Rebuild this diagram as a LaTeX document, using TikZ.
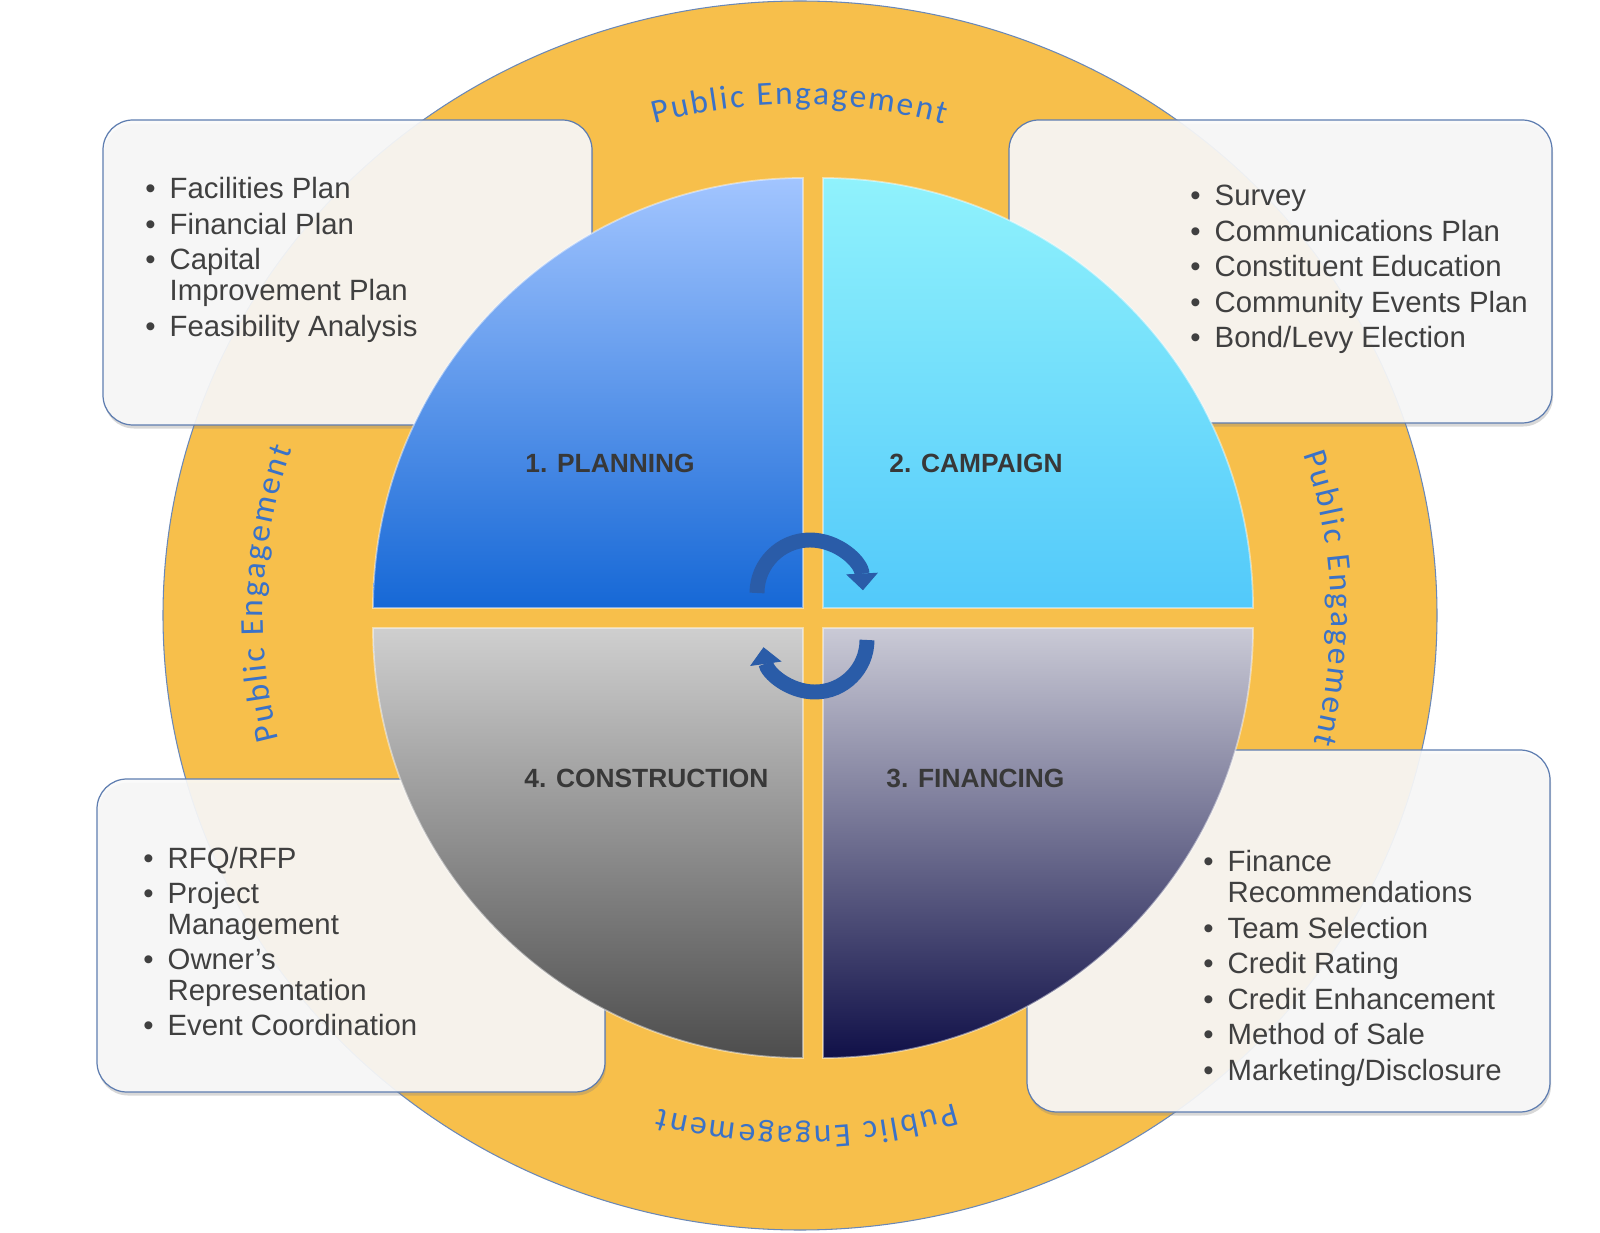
\documentclass[tikz,border=0pt]{standalone}
\usepackage{fontspec}
\setmainfont{Liberation Sans}
\newfontfamily\engfont{Carlito}
\usetikzlibrary{arrows.meta}
\usetikzlibrary{decorations.text}
\usetikzlibrary{shadows}
\definecolor{ringorange}{HTML}{F7BF4B}
\definecolor{ringline}{HTML}{6A88B8}
\definecolor{engblue}{HTML}{3A72C8}
\definecolor{boxline}{HTML}{5E7DB0}
\definecolor{boxfill}{HTML}{FAFAFA}
\definecolor{listgray}{HTML}{404040}
\definecolor{lblgray}{HTML}{383838}
\definecolor{turnblue}{HTML}{2A5CA8}
\definecolor{planTop}{HTML}{A2C5FF}
\definecolor{planMid}{HTML}{7BAEF9}
\definecolor{planBot}{HTML}{1668D6}
\definecolor{campTop}{HTML}{90F2FC}
\definecolor{campBot}{HTML}{52C9FA}
\definecolor{finTop}{HTML}{CACAD6}
\definecolor{finMid}{HTML}{A0A0BC}
\definecolor{finBot}{HTML}{101048}
\definecolor{consTop}{HTML}{CFCFCF}
\definecolor{consMid}{HTML}{ADADAD}
\definecolor{consBot}{HTML}{4D4D4D}
\tikzset{
infobox/.style={draw=boxline, line width=0.7pt, fill=boxfill, fill opacity=0.91, rounded corners=0.6cm,
  drop shadow={opacity=0.3, shadow xshift=0.6pt, shadow yshift=-2pt}},
itemlist/.style={anchor=base west, inner sep=0pt, text=listgray, font=\fontsize{16.7}{17.4}\selectfont},
phase/.style={anchor=base west, inner sep=0pt, text=lblgray, font=\bfseries\fontsize{15}{18}\selectfont},
slice/.style={draw=white, draw opacity=0.45, line width=1pt},
engage/.style={decorate, decoration={text along path, text={|\engfont\fontsize{19}{19}\selectfont|Public Engagement},
  text align={fit to path}, text color=engblue}},
cyclearrow/.style={draw=turnblue, line width=8.5pt, -{Triangle[width=18pt, length=9.5pt, line width=0.5pt]}}
}

\begin{document}
\begin{tikzpicture}[x=0.02cm, y=0.02cm]
\fill[white] (0,0) rectangle (1600,1232);
\useasboundingbox (0,0) rectangle (1600,1232);

\draw[ringline, fill=ringorange, line width=0.6pt] (800,616.5) ellipse[x radius=637, y radius=614.5];

\coordinate (hub) at (797,616.5);
\path[engage] (hub) ++(105.5:534 and 511) arc[start angle=105.5, end angle=74, x radius=534, y radius=511];
\path[engage] (hub) ++(18.4:534 and 511) arc[start angle=18.4, end angle=-14.5, x radius=534, y radius=511];
\path[engage] (hub) ++(287.2:534 and 511) arc[start angle=287.2, end angle=255, x radius=534, y radius=511];
\path[engage] (hub) ++(194:534 and 511) arc[start angle=194, end angle=161, x radius=534, y radius=511];

\draw[infobox] (103,807) rectangle (592,1112);
\draw[infobox] (1009,809) rectangle (1552,1112);
\draw[infobox] (97,140) rectangle (605,453);
\draw[infobox] (1027,120) rectangle (1550,482);

\draw[slice, top color=planTop, middle color=planMid, bottom color=planBot]
  (803,624) -- (373,624) arc[start angle=180, end angle=90, radius=430] -- cycle;
\draw[slice, top color=campTop, bottom color=campBot]
  (823,624) -- (823,1054) arc[start angle=90, end angle=0, radius=430] -- cycle;
\draw[slice, top color=finTop, middle color=finMid, bottom color=finBot]
  (823,604) -- (1253,604) arc[start angle=0, end angle=-90, radius=430] -- cycle;
\draw[slice, top color=consTop, middle color=consMid, bottom color=consBot]
  (803,604) -- (803,174) arc[start angle=-90, end angle=-180, radius=430] -- cycle;

\node[phase] (planlbl) at (525,759) {1. PLANNING};
\node[phase] (camplbl) at (889,759) {2. CAMPAIGN};
\node[phase] (finlbl) at (886,444) {3. FINANCING};
\node[phase] (conslbl) at (524,444) {4. CONSTRUCTION};

\node[itemlist] (planlist) at (145,1033) {\begin{tabular}[t]{@{}l@{\hspace{8pt}}l@{}}
\textbullet & Facilities Plan\\[2.8pt]
\textbullet & Financial Plan\\[2.8pt]
\textbullet & Capital\\
 & Improvement Plan\\[2.8pt]
\textbullet & Feasibility Analysis
\end{tabular}};
\node[itemlist] (camplist) at (1190,1026) {\begin{tabular}[t]{@{}l@{\hspace{8pt}}l@{}}
\textbullet & Survey\\[2.8pt]
\textbullet & Communications Plan\\[2.8pt]
\textbullet & Constituent Education\\[2.8pt]
\textbullet & Community Events Plan\\[2.8pt]
\textbullet & Bond/Levy Election
\end{tabular}};
\node[itemlist] (finlist) at (1203,360) {\begin{tabular}[t]{@{}l@{\hspace{8pt}}l@{}}
\textbullet & Finance\\
 & Recommendations\\[2.8pt]
\textbullet & Team Selection\\[2.8pt]
\textbullet & Credit Rating\\[2.8pt]
\textbullet & Credit Enhancement\\[2.8pt]
\textbullet & Method of Sale\\[2.8pt]
\textbullet & Marketing/Disclosure
\end{tabular}};
\node[itemlist] (conslist) at (143,364) {\begin{tabular}[t]{@{}l@{\hspace{8pt}}l@{}}
\textbullet & RFQ/RFP\\[2.8pt]
\textbullet & Project\\
 & Management\\[2.8pt]
\textbullet & Owner’s\\
 & Representation\\[2.8pt]
\textbullet & Event Coordination
\end{tabular}};

\coordinate (turntop) at (810,639);
\coordinate (turnbot) at (815,592);
\draw[cyclearrow] (turntop) ++(180:53) arc[start angle=180, end angle=3, radius=53];
\draw[cyclearrow] (turnbot) ++(0:52) arc[start angle=0, end angle=-172, radius=52];
\end{tikzpicture}
\end{document}
